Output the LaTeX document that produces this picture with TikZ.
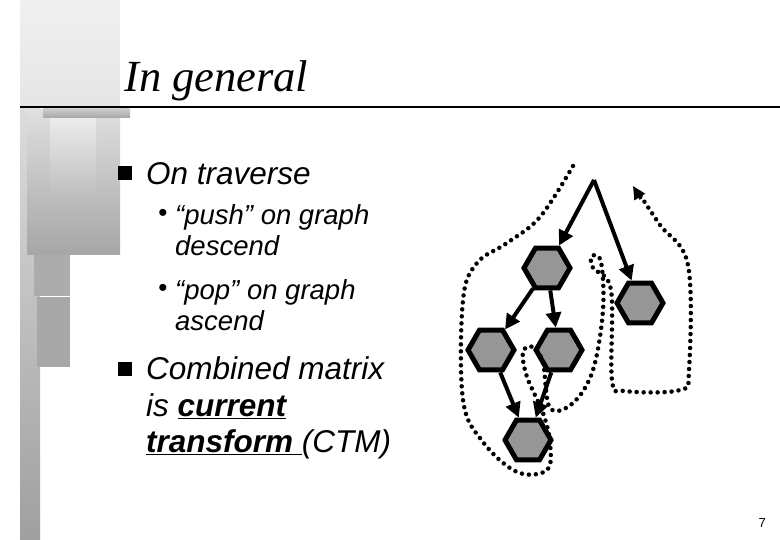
\documentclass[tikz,border=0pt]{standalone}
\usepackage{fontspec}
\setmainfont{Liberation Serif}
\setsansfont{Liberation Sans}
\usetikzlibrary{shapes.geometric,arrows.meta}
\definecolor{hexgray}{RGB}{150,150,150}
\tikzset{
  hexnode/.style={regular polygon, regular polygon sides=6, draw=black, line width=5pt, fill=hexgray, minimum size=46pt, inner sep=0pt},
  edge/.style={line width=4pt, -{Triangle[length=15pt,width=15pt]}},
  walk/.style={line width=4.5pt, line cap=round, dash pattern=on 0pt off 7pt},
  bodytext/.style={anchor=base west, font=\sffamily\itshape\fontsize{31.5}{32}\selectfont, inner sep=0pt},
  subtext/.style={anchor=base west, font=\sffamily\itshape\fontsize{27.5}{31}\selectfont, inner sep=0pt},
  dotmark/.style={font=\sffamily\fontsize{26}{26}\selectfont, inner sep=0pt}
}
\begin{document}
\begin{tikzpicture}[x=1pt,y=-1pt]
    \useasboundingbox (0,0) rectangle (780,540);
    % left decoration
    \shade[top color=gray!15, bottom color=gray!75] (20,0) rectangle (40,540);
    \shade[top color=gray!12, bottom color=gray!20] (20,0) rectangle (120,106);
    \shade[top color=gray!25, bottom color=gray!70] (27,110) rectangle (120,255);
    \shade[top color=gray!15, bottom color=gray!55] (50,118) rectangle (96,205);
    \fill[gray!65] (34,255) rectangle (70,296);
    \fill[gray!68] (37,297) rectangle (70,367);
    \shade[top color=gray!40, bottom color=gray!70] (43,109) rectangle (130,118);
    \draw[line width=1.5pt] (20,107) -- (780,107);

    % title
    \node[anchor=base west, font=\itshape\fontsize{44.5}{44}\selectfont, inner sep=0pt] (title) at (124,92) {In general};

    % bullets
    \fill (118,166) rectangle (132,180);
    \node[bodytext] (trav) at (146,185) {On traverse};
    \node[dotmark] (d1) at (163,215) {•};
    \node[subtext] (push1) at (175,225) {“push” on graph};
    \node[subtext] (push2) at (175,256) {descend};
    \node[dotmark] (d2) at (163,290) {•};
    \node[subtext] (pop1) at (175,300) {“pop” on graph};
    \node[subtext] (pop2) at (175,331) {ascend};
    \fill (118,362) rectangle (132,376);
    \node[bodytext] (ctm1) at (146,380) {Combined matrix};
    \node[bodytext] (ctm2) at (146,416) {is \textbf{\underline{current}}};
    \node[bodytext] (ctm3) at (146,452) {\textbf{\underline{transform\ }}(CTM)};

    \node[anchor=base east, font=\sffamily\fontsize{13}{13}\selectfont, inner sep=0pt] (pg) at (766,527) {7};

    % scene graph
    \coordinate (root) at (594,180);
    \node[hexnode] (a) at (547,268) {};
    \node[hexnode] (b) at (640,303) {};
    \node[hexnode] (c) at (491,350) {};
    \node[hexnode] (d) at (559,350) {};
    \node[hexnode] (e) at (528,440) {};
    \draw[edge] (root) -- (a);
    \draw[edge] (root) -- (b);
    \draw[edge] (a) -- (c);
    \draw[edge] (a) -- (d);
    \draw[edge] (c) -- (e);
    \draw[edge] (d) -- (e);

    % traversal
    \draw[walk] plot[smooth, tension=0.6] coordinates {(573,166) (540,217) (507,243) (477,263) (463,300) (463,400) (483,442) (517,472) (547,470) (550,443) (543,413) (527,377) (523,352) (533,347) (543,363) (550,408) (573,403) (593,370) (603,310) (601,262) (592,256) (593,268) (611,290) (612,380) (625,391) (680,390) (689,370) (688,265) (660,225) (640,195)};
    \draw[line width=3pt, -{Triangle[length=13pt,width=12pt]}] (641,199) -- (633,186);
\end{tikzpicture}
\end{document}
